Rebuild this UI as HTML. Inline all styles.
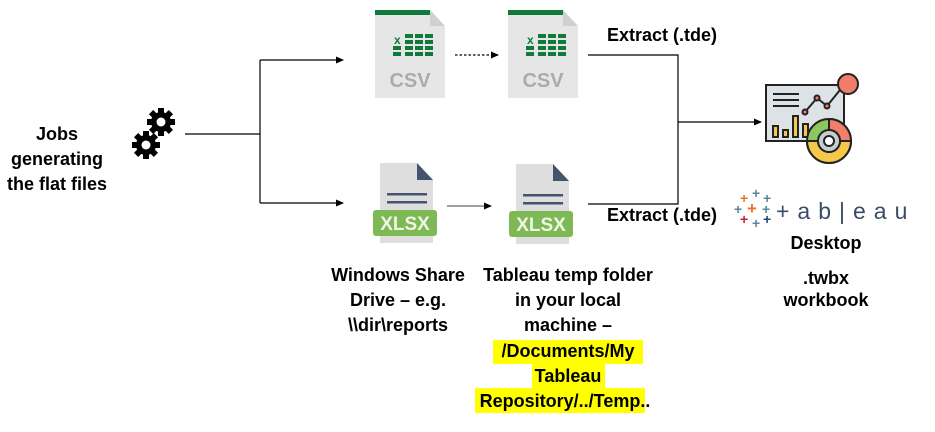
<!DOCTYPE html>
<html><head><meta charset="utf-8"><style>
html,body{margin:0;padding:0;background:#fff;width:935px;height:432px;overflow:hidden}
text{font-family:"Liberation Sans",sans-serif;font-weight:bold;fill:#000}
</style></head><body>
<svg width="935" height="432" viewBox="0 0 935 432" xmlns="http://www.w3.org/2000/svg">
<defs>
<marker id="ah" markerWidth="8" markerHeight="8" refX="7" refY="4" orient="auto" markerUnits="userSpaceOnUse"><path d="M0,0.5 L8,4 L0,7.5z" fill="#000"/></marker>
<g id="gear">
<circle r="10" fill="#000"/>
<g fill="#000">
<rect x="-3" y="-14" width="6" height="28"/>
<rect x="-3" y="-14" width="6" height="28" transform="rotate(45)"/>
<rect x="-3" y="-14" width="6" height="28" transform="rotate(90)"/>
<rect x="-3" y="-14" width="6" height="28" transform="rotate(135)"/>
</g>
<circle r="4.5" fill="#fff"/>
</g>
<g id="csv">
<path d="M0,0 H55 L70,16 V88 H0z" fill="#e6e6e6"/>
<path d="M55,0 L70,16 H55z" fill="#d0d0d0"/>
<rect x="0" y="0" width="55" height="5" fill="#0f7a3a"/>
<text x="19" y="34" font-size="12" style="fill:#0f7a3a">x</text>
<g fill="#0f7a3a">
<rect x="30" y="24" width="8" height="4"/><rect x="40" y="24" width="8" height="4"/><rect x="50" y="24" width="8" height="4"/>
<rect x="30" y="30" width="8" height="4"/><rect x="40" y="30" width="8" height="4"/><rect x="50" y="30" width="8" height="4"/>
<rect x="18" y="36" width="8" height="4"/><rect x="30" y="36" width="8" height="4"/><rect x="40" y="36" width="8" height="4"/><rect x="50" y="36" width="8" height="4"/>
<rect x="18" y="42" width="8" height="4"/><rect x="30" y="42" width="8" height="4"/><rect x="40" y="42" width="8" height="4"/><rect x="50" y="42" width="8" height="4"/>
</g>
<text x="35" y="77" font-size="20" text-anchor="middle" style="fill:#a9acaf">CSV</text>
</g>
<g id="xlsx">
<path d="M3,0 H40 L56,17 V80 H3z" fill="#dedede"/>
<path d="M40,0 L56,17 H40z" fill="#44536e"/>
<rect x="10" y="30" width="40" height="2.5" fill="#44536e"/>
<rect x="10" y="38" width="40" height="2.5" fill="#44536e"/>
<rect x="-4" y="47" width="64" height="26" rx="3" fill="#7fb955"/>
<text x="28" y="67" font-size="19" text-anchor="middle" style="fill:#eef6e6">XLSX</text>
</g>
</defs>

<text x="57" y="140" font-size="18" text-anchor="middle">Jobs</text>
<text x="57" y="165" font-size="18" text-anchor="middle">generating</text>
<text x="57" y="190" font-size="18" text-anchor="middle">the flat files</text>

<use href="#gear" x="161" y="122"/>
<use href="#gear" x="146" y="145"/>

<g stroke="#000" stroke-width="1.2" fill="none">
<path d="M185,134 H260"/>
<path d="M260,60 V203"/>
<path d="M260,60 H343" marker-end="url(#ah)"/>
<path d="M260,203 H343" marker-end="url(#ah)"/>
<path d="M455,55 H498" stroke-dasharray="2.5,2" marker-end="url(#ah)"/>
<path d="M447,206 H491" stroke-width="0.8" marker-end="url(#ah)"/>
<path d="M588,55 H678 V204 H588"/>
<path d="M678,122 H761" marker-end="url(#ah)"/>
</g>

<use href="#csv" x="375" y="10"/>
<use href="#csv" x="508" y="10"/>
<use href="#xlsx" x="377" y="163"/>
<use href="#xlsx" x="513" y="164"/>

<text x="607" y="41" font-size="18">Extract (.tde)</text>
<text x="607" y="221" font-size="18">Extract (.tde)</text>

<g stroke="#222" stroke-width="2">
<rect x="766" y="85" width="78" height="56" fill="#dde2e6"/>
<circle cx="848" cy="84" r="10" fill="#f07e6a"/>
<path d="M805,112 L817,98 L827,106 L840,90" fill="none"/>
<circle cx="805" cy="112" r="2.5" fill="#f07e6a"/><circle cx="817" cy="98" r="2.5" fill="#f07e6a"/><circle cx="827" cy="106" r="2.5" fill="#f07e6a"/>
<rect x="773" y="126" width="5" height="11" fill="#f5c84b"/>
<rect x="783" y="130" width="5" height="7" fill="#f5c84b"/>
<rect x="793" y="116" width="5" height="21" fill="#f5c84b"/>
<rect x="803" y="124" width="5" height="13" fill="#f5c84b"/>
<path d="M773,94 H799 M773,100 H799 M773,106 H799" fill="none"/>
<circle cx="829" cy="141" r="22" fill="#8cc760"/>
<path d="M829,119 A22,22 0 0 1 851,141 L840,141 A11,11 0 0 0 829,130z" fill="#f07e6a"/>
<path d="M807,141 A22,22 0 0 0 851,141 L840,141 A11,11 0 0 1 818,141z" fill="#f5c84b"/>
<circle cx="829" cy="141" r="11" fill="#c7ccd1"/>
<circle cx="829" cy="141" r="5" fill="#fff"/>
</g>

<g font-size="14" font-weight="bold">
<text x="740" y="203" style="fill:#e8762d">+</text><text x="752" y="198" style="fill:#5b879b">+</text><text x="763" y="203" style="fill:#5b879b">+</text>
<text x="734" y="214" style="fill:#5b879b">+</text><text x="747" y="214" style="fill:#e8762d;font-size:17px">+</text><text x="762" y="214" style="fill:#5b879b">+</text>
<text x="740" y="224" style="fill:#c72035">+</text><text x="752" y="228" style="fill:#59879b">+</text><text x="763" y="224" style="fill:#1f447e">+</text>
</g>
<text x="776" y="219" font-size="23" style="font-weight:normal;fill:#3a4c6b;letter-spacing:8px">+ab|eau</text>

<text x="826" y="249" font-size="18" text-anchor="middle">Desktop</text>
<text x="826" y="284" font-size="18" text-anchor="middle">.twbx</text>
<text x="826" y="306" font-size="18" text-anchor="middle">workbook</text>

<text x="398" y="281" font-size="18" text-anchor="middle">Windows Share</text>
<text x="398" y="306" font-size="18" text-anchor="middle">Drive – e.g.</text>
<text x="398" y="331" font-size="18" text-anchor="middle">\\dir\reports</text>

<rect x="493" y="340" width="150" height="24" fill="#ffff00"/>
<rect x="532" y="364" width="73" height="24" fill="#ffff00"/>
<rect x="475" y="388" width="170" height="25" fill="#ffff00"/>
<text x="568" y="281" font-size="18" text-anchor="middle">Tableau temp folder</text>
<text x="568" y="306" font-size="18" text-anchor="middle">in your local</text>
<text x="568" y="331" font-size="18" text-anchor="middle">machine –</text>
<text x="568" y="357" font-size="18" text-anchor="middle">/Documents/My</text>
<text x="568" y="382" font-size="18" text-anchor="middle">Tableau</text>
<text x="565" y="407" font-size="18" text-anchor="middle">Repository/../Temp..</text>
</svg>
</body></html>
